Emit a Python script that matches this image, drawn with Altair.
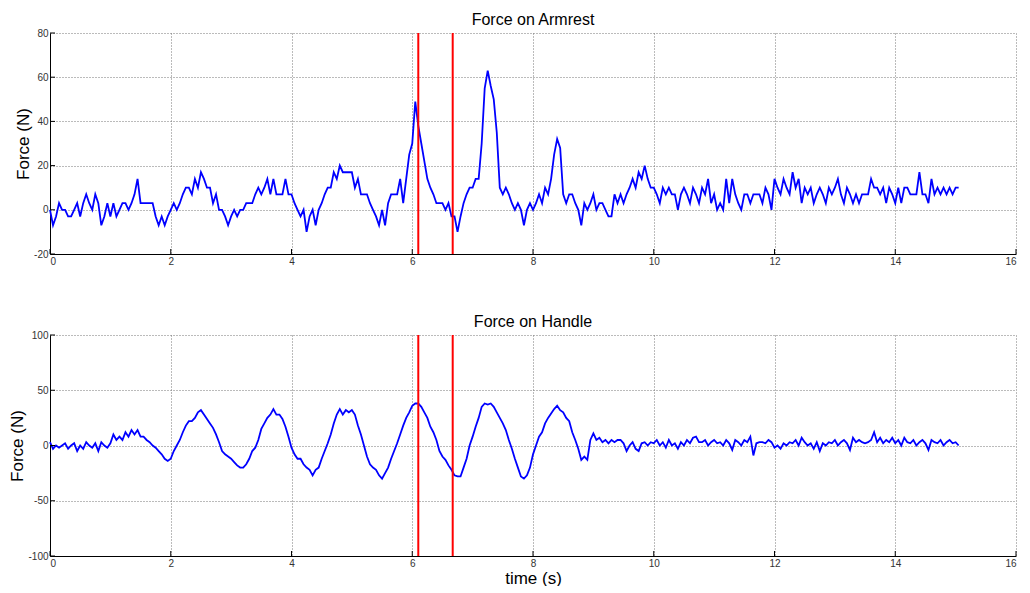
import altair as alt
import pandas as pd

# Force on Armrest (N), one list per second, samples every 0.05 s
arm_0 = [0, -7, -3, 3, 0, 0, -3, -3, 0, 3, -3, 3, 7, 3, 0, 7, 3, -7, -3, 3]
arm_1 = [-3, 3, -3, 0, 3, 3, 0, 3, 7, 14, 3, 3, 3, 3, 3, -3, -7, -3, -7, -3]
arm_2 = [0, 3, 0, 3, 7, 10, 10, 7, 14, 10, 17, 14, 10, 10, 3, 7, 0, 0, -3, -7]
arm_3 = [-3, 0, -3, 0, 0, 3, 3, 3, 7, 10, 7, 10, 14, 7, 14, 7, 7, 7, 14, 7]
arm_4 = [7, 3, 0, -3, 0, -10, -3, 0, -7, 0, 3, 7, 10, 10, 17, 14, 20, 17, 17, 17]
arm_5 = [17, 10, 14, 7, 7, 7, 3, 0, -3, -7, 0, -7, 3, 7, 7, 7, 14, 3, 14, 25]
arm_6 = [30, 49, 38, 30, 22, 14, 10, 7, 3, 3, 3, 0, 3, -3, -3, -10, -3, 3, 7, 10]
arm_7 = [10, 14, 14, 30, 55, 63, 56, 50, 35, 10, 7, 10, 7, 3, 0, 3, 0, -7, 0, 3]
arm_8 = [0, 3, 7, 3, 10, 7, 14, 25, 32, 28, 7, 3, 7, 7, 3, 0, -7, 3, 0, 3]
arm_9 = [7, 0, 3, 3, 0, -3, -3, 7, 3, 7, 3, 7, 10, 14, 10, 17, 14, 20, 14, 10]
arm_10 = [10, 7, 3, 10, 7, 10, 7, 7, 0, 7, 10, 7, 3, 10, 7, 3, 10, 7, 14, 3]
arm_11 = [7, 0, 3, 0, 14, 3, 14, 7, 3, 0, 7, 7, 3, 7, 7, 7, 3, 10, 7, 0]
arm_12 = [14, 10, 7, 14, 10, 7, 17, 10, 14, 3, 10, 7, 10, 3, 7, 10, 7, 3, 10, 7]
arm_13 = [10, 14, 7, 3, 10, 7, 3, 7, 3, 7, 7, 7, 14, 10, 10, 7, 10, 3, 10, 7]
arm_14 = [3, 10, 3, 10, 10, 7, 7, 7, 17, 7, 7, 3, 14, 7, 10, 7, 10, 7, 10, 7]
arm_15 = [10, 10]

# Force on Handle (N)
hdl_0 = [3, -3, 0, -2, 0, 2, -3, 0, 2, -5, 0, -3, 3, 0, -2, 2, -5, 3, 0, -2]
hdl_1 = [2, 10, 5, 8, 5, 12, 8, 14, 10, 14, 8, 8, 5, 3, 0, -2, -5, -8, -12, -14]
hdl_2 = [-12, -5, 0, 5, 12, 18, 22, 22, 25, 30, 32, 28, 24, 20, 16, 10, 3, -5, -8, -10]
hdl_3 = [-12, -15, -18, -20, -20, -17, -12, -5, -2, 5, 15, 20, 25, 28, 33, 28, 28, 24, 17, 8]
hdl_4 = [-2, -8, -12, -12, -17, -20, -22, -27, -22, -20, -12, -5, 2, 10, 20, 28, 33, 28, 32, 30]
hdl_5 = [32, 28, 18, 10, 0, -10, -17, -20, -22, -27, -30, -25, -20, -12, -5, 2, 10, 18, 25, 30]
hdl_6 = [36, 38, 38, 35, 30, 25, 17, 12, 5, -5, -10, -13, -18, -22, -27, -28, -28, -20, -12, 0]
hdl_7 = [8, 17, 25, 35, 38, 37, 38, 35, 30, 25, 20, 14, 5, -3, -12, -20, -28, -30, -27, -20]
hdl_8 = [-8, 0, 8, 12, 20, 25, 29, 33, 36, 32, 30, 25, 22, 12, 5, -3, -13, -10, -13, 5]
hdl_9 = [11, 5, 7, 3, 5, 2, 5, 3, 5, 5, 2, -5, 0, 3, -3, -5, 2, 3, 0, 3]
hdl_10 = [2, 5, 0, 3, -2, 5, 0, 2, -3, 3, 0, 5, 2, 7, 8, 3, 3, 5, 0, 3]
hdl_11 = [5, 2, 3, 0, 5, 2, -4, 5, 3, 0, 5, 3, 8, -9, 2, 3, 3, 2, 5, 3]
hdl_12 = [-2, 0, -3, 2, 0, 3, 2, 5, 0, 7, 3, 0, 2, -3, 3, -5, 2, 0, 3, 2]
hdl_13 = [5, 0, 3, 5, 2, -4, 7, 3, 5, 3, 2, 3, 5, 12, 3, 7, 2, 5, 3, 7]
hdl_14 = [2, 5, 0, 7, 3, 2, 5, 0, 3, 5, 2, -4, 5, 3, 2, 5, 0, 3, 5, 2]
hdl_15 = [3, 0]

dt = 0.05
marker_times = [6.1, 6.67]
x_ticks = [0, 2, 4, 6, 8, 10, 12, 14, 16]
arm_ticks = [-20, 0, 20, 40, 60, 80]
hdl_ticks = [-100, -50, 0, 50, 100]

arm = (arm_0 + arm_1 + arm_2 + arm_3 + arm_4 + arm_5 + arm_6 + arm_7 + arm_8
       + arm_9 + arm_10 + arm_11 + arm_12 + arm_13 + arm_14 + arm_15)
hdl = (hdl_0 + hdl_1 + hdl_2 + hdl_3 + hdl_4 + hdl_5 + hdl_6 + hdl_7 + hdl_8
       + hdl_9 + hdl_10 + hdl_11 + hdl_12 + hdl_13 + hdl_14 + hdl_15)

W, H = 966, 221
FONT = "Liberation Sans"


def panel(values, title, ydom, yticks, xtitle):
    df = pd.DataFrame({"t": [round(i * dt, 2) for i in range(len(values))], "f": values})
    xenc = alt.X("t:Q", scale=alt.Scale(domain=[0, 16], nice=False),
                 axis=alt.Axis(values=x_ticks, title=xtitle, grid=True, ticks=False,
                               labelPadding=2, titlePadding=2, labelExpr="datum.value + ''"))
    yenc = alt.Y("f:Q", scale=alt.Scale(domain=ydom, nice=False),
                 axis=alt.Axis(values=yticks, title="Force (N)", grid=True, ticks=False,
                               labelPadding=2, titlePadding=1, labelExpr="datum.value + ''"))
    line = alt.Chart(df).mark_line(color="#0000FF", strokeWidth=1.8).encode(x=xenc, y=yenc)
    red = alt.Chart(pd.DataFrame({"t": marker_times})).mark_rule(
        color="#FF0000", strokeWidth=2).encode(x="t:Q")
    xt = alt.Chart(pd.DataFrame({"t": x_ticks})).mark_rule(color="#000", strokeWidth=1).encode(
        x="t:Q", y=alt.value(H), y2=alt.value(H - 5))
    yt = alt.Chart(pd.DataFrame({"f": yticks})).mark_rule(color="#000", strokeWidth=1).encode(
        y="f:Q", x=alt.value(0), x2=alt.value(5))
    return alt.layer(line, red, xt, yt).properties(
        width=W, height=H,
        title=alt.TitleParams(title, fontSize=16, font=FONT, fontWeight="normal",
                              color="#000", offset=0, anchor="middle"))


top = panel(arm, "Force on Armrest", [-20, 80], arm_ticks, None)
bottom = panel(hdl, "Force on Handle", [-100, 100], hdl_ticks, "time (s)")

chart = alt.vconcat(top, bottom, spacing=81, bounds="flush").properties(
    padding={"left": 0, "top": 4, "right": 0, "bottom": 0}
).configure_view(stroke=None).configure_axis(
    labelFont=FONT, labelFontSize=10, labelColor="#333",
    titleFont=FONT, titleFontSize=17, titleFontWeight="normal", titleColor="#000",
    domainColor="#000", domainWidth=1,
    gridColor="#777", gridDash=[1, 2], gridWidth=1, gridOpacity=1,
)

chart.save("out.html", embed_options={"renderer": "svg", "actions": False})
